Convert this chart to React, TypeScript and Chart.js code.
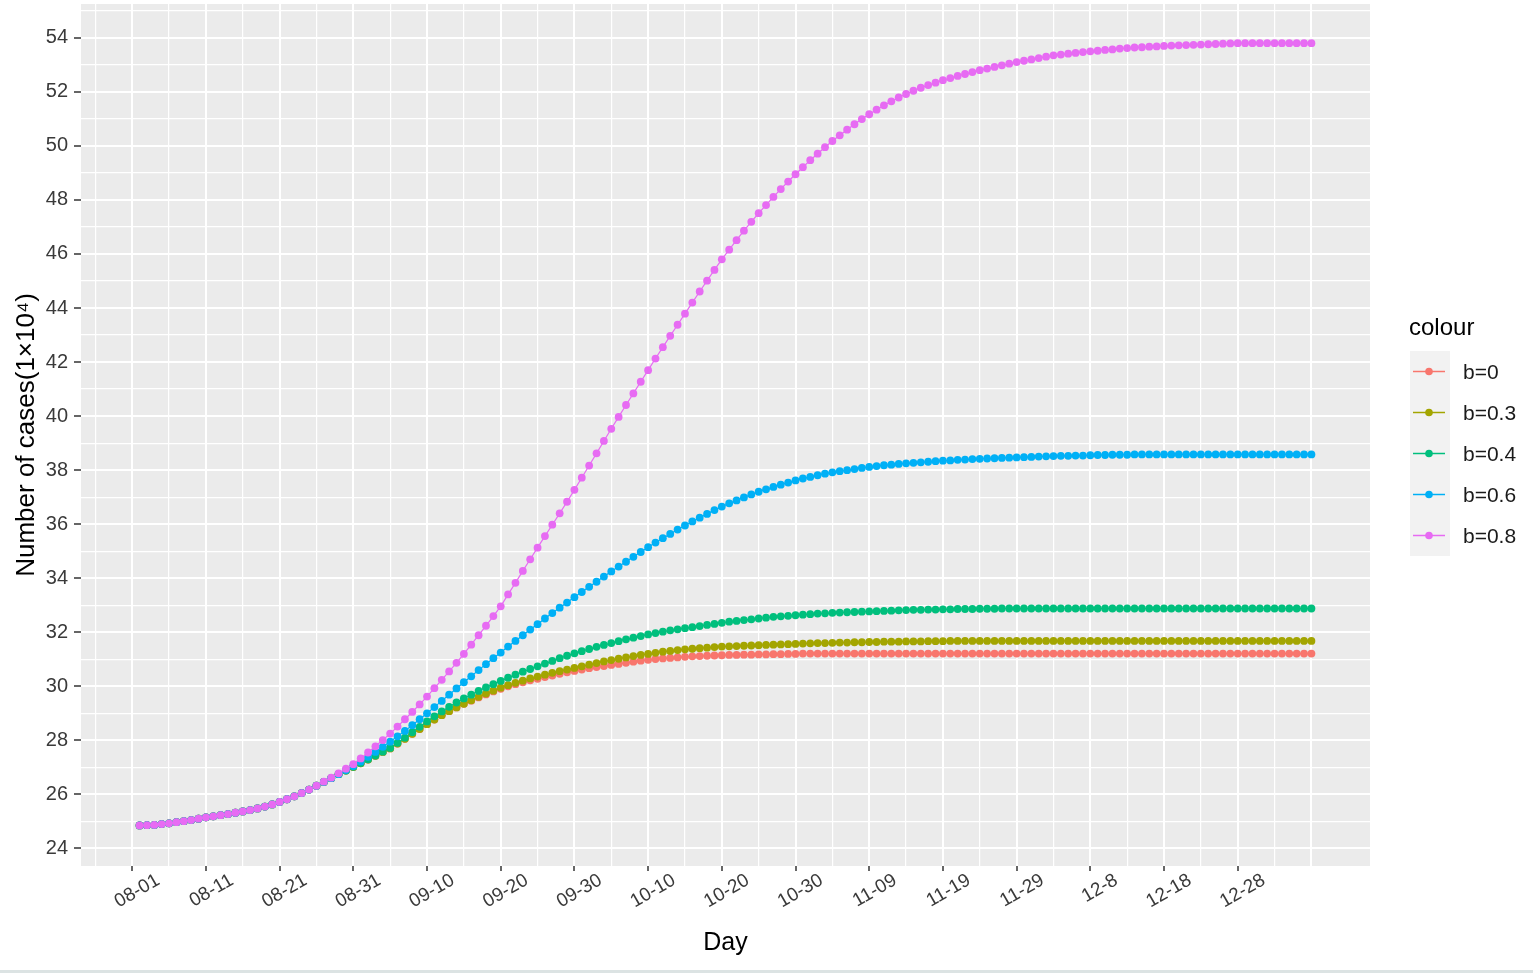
import React, { useEffect, useRef } from "react";
import { Chart, registerables } from "chart.js";

Chart.register(...registerables);

const FONT = "'Liberation Sans', Arial, Helvetica, sans-serif";

// x tick labels, one every 10 days starting at day 0
const TICK_LABELS = [
  "08-01", "08-11", "08-21", "08-31", "09-10", "09-20", "09-30", "10-10",
  "10-20", "10-30", "11-09", "11-19", "11-29", "12-8", "12-18", "12-28",
];

const SERIES_LABELS = ["b=0", "b=0.3", "b=0.4", "b=0.6", "b=0.8"];
const SERIES_COLORS = ["#F8766D", "#A3A500", "#00BF7D", "#00B0F6", "#E76BF3"];
const LEGEND_TITLE = "colour";
const X_TITLE = "Day";
const Y_TITLE = "Number of cases(1×10⁴)";

// values, days 1..160 (units of 1e4 cases)
const B0 = [
  24.85, 24.86, 24.87, 24.90, 24.93, 24.97, 25.01, 25.05, 25.10, 25.15,
  25.19, 25.23, 25.27, 25.32, 25.37, 25.42, 25.48, 25.55, 25.63, 25.72,
  25.82, 25.93, 26.05, 26.18, 26.32, 26.46, 26.60, 26.75, 26.88, 27.01,
  27.15, 27.29, 27.43, 27.57, 27.70, 27.88, 28.06, 28.24, 28.42, 28.60,
  28.77, 28.93, 29.08, 29.22, 29.35, 29.47, 29.59, 29.70, 29.81, 29.91,
  30.00, 30.08, 30.15, 30.22, 30.28, 30.34, 30.40, 30.46, 30.52, 30.57,
  30.62, 30.67, 30.71, 30.75, 30.79, 30.83, 30.87, 30.91, 30.95, 30.98,
  31.01, 31.03, 31.05, 31.07, 31.09, 31.11, 31.12, 31.13, 31.14, 31.15,
  31.16, 31.16, 31.17, 31.17, 31.18, 31.18, 31.19, 31.19, 31.20, 31.20,
  31.21, 31.21, 31.21, 31.21, 31.21, 31.21, 31.21, 31.21, 31.21, 31.21,
  31.21, 31.21, 31.21, 31.21, 31.21, 31.21, 31.21, 31.21, 31.21, 31.21,
  31.21, 31.21, 31.21, 31.21, 31.21, 31.21, 31.21, 31.21, 31.21, 31.21,
  31.21, 31.21, 31.21, 31.21, 31.21, 31.21, 31.21, 31.21, 31.21, 31.21,
  31.21, 31.21, 31.21, 31.21, 31.21, 31.21, 31.21, 31.21, 31.21, 31.21,
  31.21, 31.21, 31.21, 31.21, 31.21, 31.21, 31.21, 31.21, 31.21, 31.21,
  31.21, 31.21, 31.21, 31.21, 31.21, 31.21, 31.21, 31.21, 31.21, 31.21,
];

const B03 = [
  24.85, 24.86, 24.87, 24.90, 24.93, 24.97, 25.01, 25.05, 25.10, 25.15,
  25.19, 25.23, 25.27, 25.32, 25.37, 25.42, 25.48, 25.55, 25.63, 25.72,
  25.82, 25.93, 26.05, 26.18, 26.32, 26.46, 26.60, 26.75, 26.88, 27.01,
  27.15, 27.29, 27.43, 27.57, 27.70, 27.88, 28.06, 28.24, 28.42, 28.60,
  28.77, 28.93, 29.08, 29.22, 29.35, 29.48, 29.61, 29.73, 29.84, 29.95,
  30.04, 30.13, 30.21, 30.29, 30.36, 30.43, 30.50, 30.56, 30.62, 30.68,
  30.74, 30.80, 30.86, 30.92, 30.97, 31.02, 31.07, 31.12, 31.16, 31.20,
  31.24, 31.28, 31.31, 31.34, 31.37, 31.39, 31.41, 31.43, 31.45, 31.47,
  31.48, 31.49, 31.50, 31.51, 31.52, 31.53, 31.54, 31.55, 31.56, 31.57,
  31.58, 31.59, 31.60, 31.60, 31.61, 31.62, 31.62, 31.63, 31.63, 31.64,
  31.64, 31.65, 31.65, 31.65, 31.66, 31.66, 31.66, 31.67, 31.67, 31.67,
  31.68, 31.68, 31.68, 31.68, 31.68, 31.68, 31.68, 31.68, 31.68, 31.68,
  31.68, 31.68, 31.68, 31.68, 31.68, 31.68, 31.68, 31.68, 31.68, 31.68,
  31.68, 31.68, 31.68, 31.68, 31.68, 31.68, 31.68, 31.68, 31.68, 31.68,
  31.68, 31.68, 31.68, 31.68, 31.68, 31.68, 31.68, 31.68, 31.68, 31.68,
  31.68, 31.68, 31.68, 31.68, 31.68, 31.68, 31.68, 31.68, 31.68, 31.68,
];

const B04 = [
  24.85, 24.86, 24.87, 24.90, 24.93, 24.97, 25.01, 25.05, 25.10, 25.15,
  25.19, 25.23, 25.27, 25.32, 25.37, 25.42, 25.48, 25.55, 25.63, 25.72,
  25.82, 25.93, 26.05, 26.18, 26.32, 26.46, 26.60, 26.75, 26.88, 27.02,
  27.16, 27.30, 27.44, 27.58, 27.72, 27.91, 28.10, 28.30, 28.50, 28.70,
  28.89, 29.07, 29.24, 29.40, 29.55, 29.69, 29.83, 29.96, 30.08, 30.20,
  30.32, 30.43, 30.54, 30.64, 30.74, 30.84, 30.94, 31.04, 31.13, 31.22,
  31.30, 31.38, 31.46, 31.53, 31.60, 31.67, 31.74, 31.80, 31.86, 31.92,
  31.97, 32.02, 32.07, 32.11, 32.15, 32.19, 32.23, 32.27, 32.31, 32.35,
  32.39, 32.42, 32.45, 32.48, 32.51, 32.54, 32.57, 32.59, 32.61, 32.63,
  32.65, 32.67, 32.69, 32.70, 32.72, 32.73, 32.74, 32.75, 32.76, 32.77,
  32.78, 32.79, 32.80, 32.81, 32.82, 32.83, 32.83, 32.84, 32.84, 32.85,
  32.85, 32.86, 32.86, 32.86, 32.87, 32.87, 32.87, 32.88, 32.88, 32.88,
  32.88, 32.88, 32.88, 32.88, 32.88, 32.88, 32.88, 32.88, 32.88, 32.88,
  32.88, 32.88, 32.88, 32.88, 32.88, 32.88, 32.88, 32.88, 32.88, 32.88,
  32.88, 32.88, 32.88, 32.88, 32.88, 32.88, 32.88, 32.88, 32.88, 32.88,
  32.88, 32.88, 32.88, 32.88, 32.88, 32.88, 32.88, 32.88, 32.88, 32.88,
];

const B06 = [
  24.85, 24.86, 24.87, 24.90, 24.93, 24.97, 25.01, 25.05, 25.10, 25.15,
  25.19, 25.23, 25.27, 25.32, 25.37, 25.42, 25.48, 25.55, 25.63, 25.72,
  25.82, 25.93, 26.05, 26.18, 26.32, 26.46, 26.60, 26.75, 26.90, 27.05,
  27.22, 27.39, 27.57, 27.76, 27.95, 28.15, 28.35, 28.56, 28.78, 29.00,
  29.23, 29.46, 29.69, 29.92, 30.15, 30.37, 30.60, 30.82, 31.04, 31.25,
  31.47, 31.68, 31.89, 32.10, 32.30, 32.51, 32.71, 32.91, 33.10, 33.30,
  33.49, 33.68, 33.87, 34.06, 34.25, 34.43, 34.61, 34.79, 34.97, 35.15,
  35.32, 35.48, 35.64, 35.80, 35.95, 36.10, 36.24, 36.38, 36.52, 36.65,
  36.77, 36.88, 36.99, 37.10, 37.20, 37.29, 37.38, 37.46, 37.54, 37.62,
  37.69, 37.75, 37.81, 37.87, 37.92, 37.96, 38.00, 38.04, 38.08, 38.12,
  38.15, 38.18, 38.20, 38.23, 38.25, 38.27, 38.29, 38.31, 38.33, 38.35,
  38.36, 38.38, 38.39, 38.41, 38.42, 38.43, 38.44, 38.45, 38.46, 38.47,
  38.48, 38.49, 38.50, 38.51, 38.52, 38.53, 38.53, 38.54, 38.54, 38.55,
  38.56, 38.56, 38.57, 38.57, 38.57, 38.58, 38.58, 38.58, 38.58, 38.58,
  38.58, 38.58, 38.58, 38.58, 38.58, 38.58, 38.58, 38.58, 38.58, 38.58,
  38.58, 38.58, 38.58, 38.58, 38.58, 38.58, 38.58, 38.58, 38.58, 38.58,
];

const B08 = [
  24.85, 24.86, 24.87, 24.90, 24.93, 24.97, 25.01, 25.05, 25.10, 25.15,
  25.19, 25.23, 25.27, 25.32, 25.37, 25.42, 25.48, 25.55, 25.63, 25.72,
  25.82, 25.93, 26.05, 26.18, 26.32, 26.47, 26.62, 26.78, 26.95, 27.12,
  27.33, 27.55, 27.78, 28.01, 28.25, 28.51, 28.78, 29.05, 29.33, 29.62,
  29.93, 30.24, 30.55, 30.87, 31.20, 31.54, 31.89, 32.24, 32.60, 32.96,
  33.40, 33.83, 34.27, 34.70, 35.13, 35.56, 35.98, 36.40, 36.83, 37.27,
  37.72, 38.17, 38.62, 39.08, 39.53, 39.97, 40.41, 40.84, 41.27, 41.70,
  42.13, 42.55, 42.97, 43.38, 43.79, 44.20, 44.61, 45.01, 45.41, 45.80,
  46.16, 46.51, 46.86, 47.19, 47.51, 47.81, 48.11, 48.40, 48.68, 48.95,
  49.21, 49.47, 49.71, 49.95, 50.18, 50.39, 50.60, 50.80, 50.99, 51.17,
  51.34, 51.50, 51.65, 51.79, 51.92, 52.04, 52.15, 52.25, 52.34, 52.43,
  52.51, 52.59, 52.66, 52.73, 52.80, 52.86, 52.92, 52.98, 53.04, 53.10,
  53.15, 53.20, 53.25, 53.30, 53.35, 53.38, 53.41, 53.44, 53.47, 53.50,
  53.52, 53.55, 53.57, 53.60, 53.62, 53.64, 53.65, 53.67, 53.68, 53.70,
  53.71, 53.72, 53.73, 53.74, 53.75, 53.76, 53.77, 53.78, 53.79, 53.80,
  53.80, 53.80, 53.80, 53.80, 53.80, 53.80, 53.80, 53.80, 53.80, 53.80,
];

const SERIES_VALUES = [B0, B03, B04, B06, B08];

const panelBackground = {
  id: "panelBackground",
  beforeDraw(chart: any) {
    const { ctx, chartArea: a } = chart;
    ctx.save();
    ctx.fillStyle = "#EBEBEB";
    ctx.fillRect(a.left, a.top, a.right - a.left, a.bottom - a.top);
    ctx.restore();
  },
};

const ggLegend = {
  id: "ggLegend",
  afterDraw(chart: any) {
    const ctx = chart.ctx;
    const keyX = 1410;
    const keyW = 40;
    const keyTop = 351;
    const keyH = 41;
    ctx.save();
    ctx.fillStyle = "#000000";
    ctx.font = `24px ${FONT}`;
    ctx.textAlign = "left";
    ctx.textBaseline = "alphabetic";
    ctx.fillText(LEGEND_TITLE, 1409, 335);
    ctx.fillStyle = "#F2F2F2";
    ctx.fillRect(keyX, keyTop, keyW, keyH * SERIES_LABELS.length);
    SERIES_LABELS.forEach((label, i) => {
      const cy = keyTop + keyH * i + keyH / 2;
      const color = SERIES_COLORS[i];
      ctx.strokeStyle = color;
      ctx.lineWidth = 1.5;
      ctx.beginPath();
      ctx.moveTo(keyX + 3, cy);
      ctx.lineTo(keyX + keyW - 5, cy);
      ctx.stroke();
      ctx.fillStyle = color;
      ctx.beginPath();
      ctx.arc(keyX + 19, cy, 3.8, 0, Math.PI * 2);
      ctx.fill();
      ctx.fillStyle = "#1A1A1A";
      ctx.font = `21px ${FONT}`;
      ctx.textBaseline = "middle";
      ctx.fillText(label, 1463, cy + 2);
    });
    ctx.restore();
  },
};

export default function App() {
  const canvasRef = useRef<HTMLCanvasElement | null>(null);

  useEffect(() => {
    const canvas = canvasRef.current;
    if (!canvas) return;

    const datasets = SERIES_LABELS.map((label, i) => ({
      label,
      data: SERIES_VALUES[i].map((y, k) => ({ x: k + 1, y })),
      borderColor: SERIES_COLORS[i],
      backgroundColor: SERIES_COLORS[i],
      pointBackgroundColor: SERIES_COLORS[i],
      pointBorderWidth: 0,
      pointRadius: 3.9,
      borderWidth: 1.2,
      tension: 0,
      fill: false,
      order: SERIES_LABELS.length - 1 - i,
    }));

    const chart = new Chart(canvas, {
      type: "line",
      data: { datasets },
      plugins: [panelBackground, ggLegend],
      options: {
        animation: false,
        responsive: false,
        devicePixelRatio: 1,
        events: [],
        layout: { padding: { left: 0, top: 3, right: 165, bottom: 0 } },
        plugins: {
          legend: { display: false },
          tooltip: { enabled: false },
        },
        scales: {
          x: {
            type: "linear",
            min: -6.95,
            max: 167.95,
            afterBuildTicks: (scale: any) => {
              const t = [];
              for (let v = -5; v <= 160; v += 5) t.push({ value: v });
              scale.ticks = t;
            },
            afterFit: (scale: any) => {
              scale.height = 111;
              scale.paddingLeft = 0;
              scale.paddingRight = 0;
            },
            border: { display: false },
            grid: {
              color: "#FFFFFF",
              lineWidth: (c: any) => (c.tick && c.tick.value % 10 === 0 ? 2 : 1.2),
              drawTicks: true,
              tickLength: 5,
              tickWidth: 1.5,
              tickColor: (c: any) =>
                c.tick && c.tick.value % 10 === 0 && c.tick.value >= 0 && c.tick.value <= 150
                  ? "#333333"
                  : "rgba(0,0,0,0)",
            },
            ticks: {
              autoSkip: false,
              minRotation: 30,
              maxRotation: 30,
              padding: -2,
              labelOffset: 26,
              color: "#3A3A3A",
              font: { family: FONT, size: 19 },
              callback: (value: any) => {
                const v = Number(value);
                if (v % 10 === 0 && v >= 0 && v / 10 < TICK_LABELS.length) return TICK_LABELS[v / 10];
                return "";
              },
            },
            title: {
              display: true,
              text: X_TITLE,
              color: "#000000",
              font: { family: FONT, size: 25 },
              padding: { top: 0, bottom: 19 },
            },
          },
          y: {
            type: "linear",
            min: 23.35,
            max: 55.25,
            afterBuildTicks: (scale: any) => {
              const t = [];
              for (let v = 24; v <= 55; v += 1) t.push({ value: v });
              scale.ticks = t;
            },
            afterFit: (scale: any) => {
              scale.width = 81;
              scale.paddingTop = 0;
              scale.paddingBottom = 0;
            },
            border: { display: false },
            grid: {
              color: "#FFFFFF",
              lineWidth: (c: any) => (c.tick && c.tick.value % 2 === 0 ? 2 : 1.2),
              drawTicks: true,
              tickLength: 7,
              tickWidth: 1.5,
              tickColor: (c: any) =>
                c.tick && c.tick.value % 2 === 0 ? "#333333" : "rgba(0,0,0,0)",
            },
            ticks: {
              padding: 6,
              color: "#3A3A3A",
              font: { family: FONT, size: 20 },
              callback: (value: any) => {
                const v = Number(value);
                return v % 2 === 0 ? String(v) : "";
              },
            },
            title: {
              display: true,
              text: Y_TITLE,
              color: "#000000",
              font: { family: FONT, size: 26 },
              padding: { top: 11, bottom: 0 },
            },
          },
        },
      },
    } as any);

    return () => chart.destroy();
  }, []);

  return (
    <div
      style={{
        position: "fixed",
        left: 0,
        top: 0,
        width: 1535,
        height: 977,
        background: "#FFFFFF",
        overflow: "hidden",
      }}
    >
      <canvas
        ref={canvasRef}
        width={1535}
        height={977}
        style={{ width: 1535, height: 977, display: "block" }}
      />
      <div
        style={{
          position: "absolute",
          left: 0,
          top: 970,
          width: 1533,
          height: 3,
          background: "#DCE3E3",
        }}
      />
    </div>
  );
}
